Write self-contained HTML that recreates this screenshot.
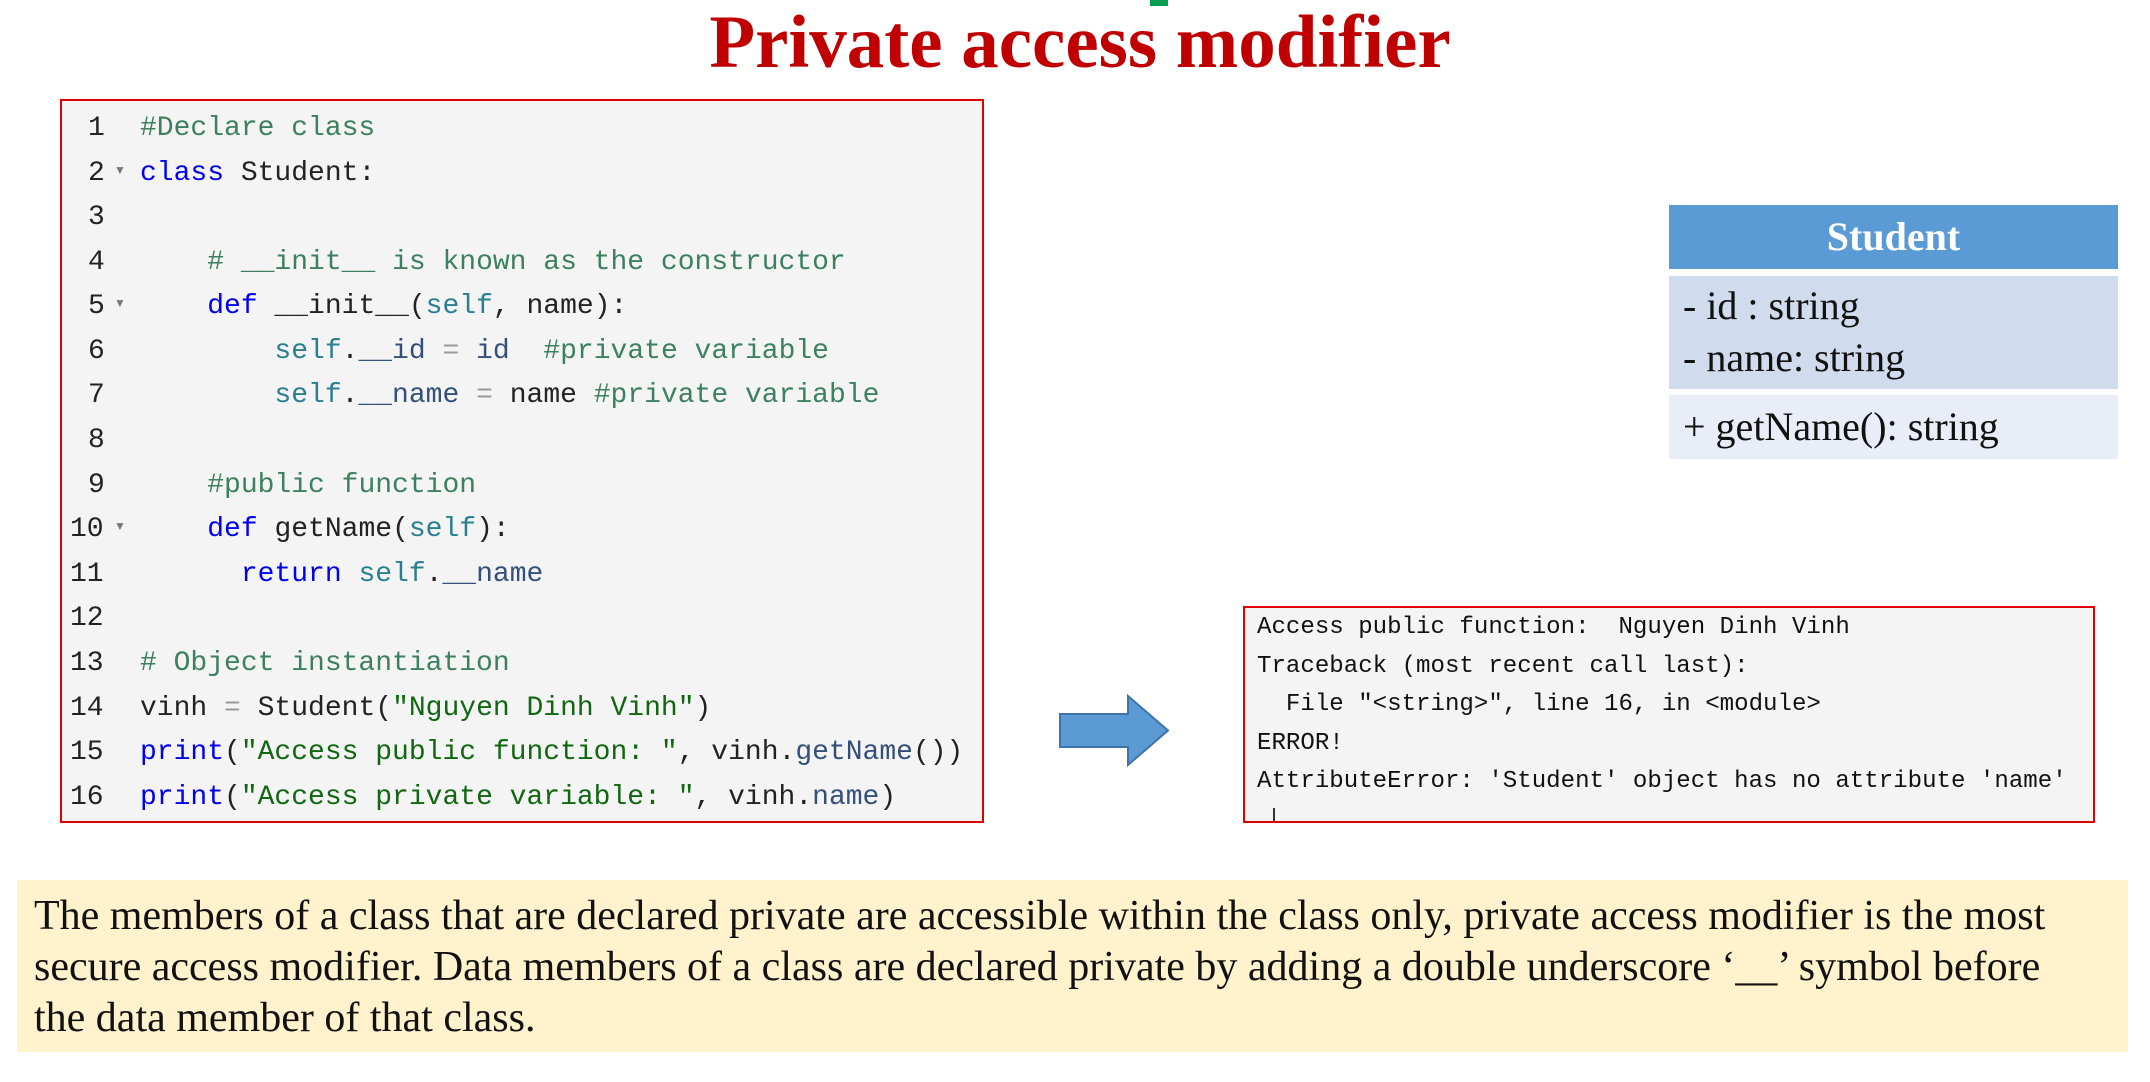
<!DOCTYPE html>
<html><head><meta charset="utf-8"><style>
body{margin:0;width:2150px;height:1082px;background:#fff;position:relative;overflow:hidden;font-family:"Liberation Sans",sans-serif}
.abs{position:absolute}
#title{left:0;width:2160px;top:0px;text-align:center;font:bold 75px "Liberation Serif",serif;color:#c00000}
#code{left:60px;top:99px;width:920px;height:720px;border:2px solid #e00000;background:#f4f4f4}
.ln{position:absolute;left:0;width:80px;text-align:left;padding-left:26px;box-sizing:border-box;font:28px "Liberation Mono",monospace;color:#222}
.cl{position:absolute;left:78px;font:28px "Liberation Mono",monospace;color:#222;white-space:pre}
.c{color:#3d8060}.k{color:#0000ee}.s{color:#2a7f8f}.t{color:#116611}.m{color:#34507a}.o{color:#999}
.fold{font-size:12px;color:#777;position:absolute;left:52px}
#uml{left:1677px;top:205px;width:449px}
#out{left:1243px;top:606px;width:848px;height:213px;border:2px solid #e00000;background:#f4f4f4}
.ol{position:absolute;left:12px;font:24.1px "Liberation Mono",monospace;color:#111;white-space:pre}
#note{left:17px;top:880px;width:2111px;height:172px;background:#fff2cc}
#note p{margin:0;position:absolute;left:17px;top:11px;white-space:nowrap;font:42px/51px "Liberation Serif",serif;color:#111}
</style></head><body>
<div class="abs" style="left:1150px;top:0;width:18px;height:6px;background:#00a050"></div>
<div class="abs" id="title">Private access modifier</div>
<div class="abs" id="code">
<div class="ln" style="top:12px">1</div><div class="cl" style="top:12px"><span class="c">#Declare class</span></div>
<div class="ln" style="top:57px">2</div><span class="fold" style="top:62px">▼</span><div class="cl" style="top:57px"><span class="k">class</span> Student:</div>
<div class="ln" style="top:101px">3</div>
<div class="ln" style="top:146px">4</div><div class="cl" style="top:146px">    <span class="c"># __init__ is known as the constructor</span></div>
<div class="ln" style="top:190px">5</div><span class="fold" style="top:195px">▼</span><div class="cl" style="top:190px">    <span class="k">def</span> __init__(<span class="s">self</span>, name):</div>
<div class="ln" style="top:235px">6</div><div class="cl" style="top:235px">        <span class="s">self</span>.<span class="m">__id</span> <span class="o">=</span> <span class="m">id</span>  <span class="c">#private variable</span></div>
<div class="ln" style="top:279px">7</div><div class="cl" style="top:279px">        <span class="s">self</span>.<span class="m">__name</span> <span class="o">=</span> name <span class="c">#private variable</span></div>
<div class="ln" style="top:324px">8</div>
<div class="ln" style="top:369px">9</div><div class="cl" style="top:369px">    <span class="c">#public function</span></div>
<div class="ln" style="top:413px;padding-left:8px">10</div><span class="fold" style="top:418px">▼</span><div class="cl" style="top:413px">    <span class="k">def</span> getName(<span class="s">self</span>):</div>
<div class="ln" style="top:458px;padding-left:8px">11</div><div class="cl" style="top:458px">      <span class="k">return</span> <span class="s">self</span>.<span class="m">__name</span></div>
<div class="ln" style="top:502px;padding-left:8px">12</div>
<div class="ln" style="top:547px;padding-left:8px">13</div><div class="cl" style="top:547px"><span class="c"># Object instantiation</span></div>
<div class="ln" style="top:592px;padding-left:8px">14</div><div class="cl" style="top:592px">vinh <span class="o">=</span> Student(<span class="t">"Nguyen Dinh Vinh"</span>)</div>
<div class="ln" style="top:636px;padding-left:8px">15</div><div class="cl" style="top:636px"><span class="k">print</span>(<span class="t">"Access public function: "</span>, vinh.<span class="m">getName</span>())</div>
<div class="ln" style="top:681px;padding-left:8px">16</div><div class="cl" style="top:681px"><span class="k">print</span>(<span class="t">"Access private variable: "</span>, vinh.<span class="m">name</span>)</div>
</div>
<div class="abs" id="uml" style="left:1669px">
<div style="height:64px;background:#5b9bd5;color:#fff;font:bold 40px/64px 'Liberation Serif',serif;text-align:center">Student</div>
<div style="margin-top:7px;height:113px;background:#d0dcee;font:40px/52px 'Liberation Serif',serif;color:#111;padding:4px 0 0 14px;box-sizing:border-box">- id : string<br>- name: string</div>
<div style="margin-top:6px;height:64px;background:#e8edf7;font:40px/64px 'Liberation Serif',serif;color:#111;padding-left:14px">+ getName(): string</div>
</div>
<svg class="abs" style="left:1055px;top:692px" width="120" height="80"><polygon points="5,22 73,22 73,4 113,38.5 73,73 73,55 5,55" fill="#5b9bd5" stroke="#3f72a8" stroke-width="2"/></svg>
<div class="abs" id="out">
<div class="ol" style="top:6px">Access public function:  Nguyen Dinh Vinh</div>
<div class="ol" style="top:45px">Traceback (most recent call last):</div>
<div class="ol" style="top:83px">  File "&lt;string&gt;", line 16, in &lt;module&gt;</div>
<div class="ol" style="top:122px">ERROR!</div>
<div class="ol" style="top:160px">AttributeError: 'Student' object has no attribute 'name'</div>
<div style="position:absolute;left:28px;top:200px;width:2px;height:13px;background:#333"></div>
</div>
<div class="abs" id="note"><p>The members of a class that are declared private are accessible within the class only, private access modifier is the most<br>secure access modifier. Data members of a class are declared private by adding a double underscore ‘__’ symbol before<br>the data member of that class.</p></div>
</body></html>
